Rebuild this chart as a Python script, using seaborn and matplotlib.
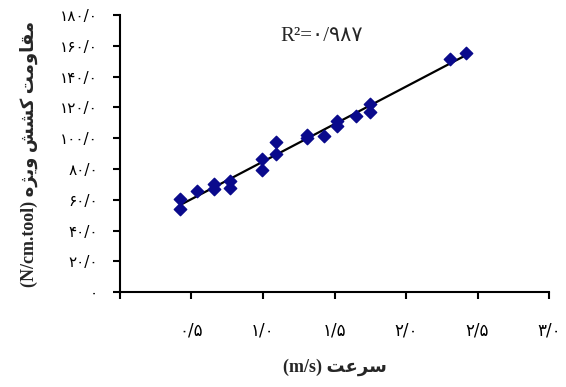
import matplotlib
matplotlib.use('Agg')
import matplotlib.pyplot as plt
import seaborn as sns
import pandas as pd

# speed (m/s) and specific draft resistance (N/cm.tool)
speed = [0.42, 0.42, 0.54, 0.66, 0.66, 0.77, 0.77, 0.99, 0.99, 1.09, 1.09,
         1.31, 1.31, 1.43, 1.52, 1.52, 1.65, 1.75, 1.75, 2.31, 2.42]
resistance = [60.7, 54.1, 65.6, 70.0, 66.8, 72.2, 67.9, 86.4, 79.4, 97.7, 89.7,
              102.1, 100.1, 101.6, 111.5, 108.0, 114.7, 122.4, 117.0, 151.4, 155.1]

x_ticks = [0, 0.5, 1.0, 1.5, 2.0, 2.5, 3.0]
x_labels = ['', '۰/۵', '۱/۰', '۱/۵', '۲/۰', '۲/۵', '۳/۰']
y_ticks = [0, 20, 40, 60, 80, 100, 120, 140, 160, 180]
y_labels = ['۰', '۲۰/۰', '۴۰/۰', '۶۰/۰', '۸۰/۰', '۱۰۰/۰', '۱۲۰/۰', '۱۴۰/۰', '۱۶۰/۰', '۱۸۰/۰']

r2_text = 'R²=۰/۹۸۷'
# persian labels written in visual order with presentation forms (no shaping in mpl)
x_title = '(m/s) \uFE96\uFECB\uFEAE\uFEB3'
y_title = ('(N/cm.tool) \uFEE9\uFB8B\uFBFE\uFEED \uFEB6\uFEB8\uFB90 '
           '\uFE96\uFEE3\uFEED\uFE8E\uFED8\uFEE3')

df = pd.DataFrame({'speed': speed, 'resistance': resistance})

sns.set_style('ticks')
plt.rcParams['font.family'] = ['DejaVu Sans']

fig = plt.figure(figsize=(5.66, 3.87), dpi=100)
ax = fig.add_axes([0.212, 0.245, 0.758, 0.716])

sns.regplot(data=df, x='speed', y='resistance', ax=ax, ci=None, marker='D',
            scatter_kws={'s': 40, 'color': '#0a0a8c', 'edgecolor': '#0a0a8c',
                         'alpha': 1, 'zorder': 3},
            line_kws={'color': 'black', 'linewidth': 1.6, 'zorder': 2})

ax.set_xlim(0, 3.0)
ax.set_ylim(0, 180)
ax.set_xticks(x_ticks)
ax.set_xticklabels(x_labels)
ax.set_yticks(y_ticks)
ax.set_yticklabels(y_labels)
ax.tick_params(axis='x', length=5, width=1.5, pad=16, labelsize=12, colors='black')
ax.tick_params(axis='y', length=5, width=1.5, pad=11, labelsize=11, colors='black')

for side in ['top', 'right']:
    ax.spines[side].set_visible(False)
for side in ['left', 'bottom']:
    ax.spines[side].set_linewidth(1.5)
    ax.spines[side].set_color('black')

ax.set_xlabel(x_title, fontsize=13, fontweight='bold',
              family=['Liberation Serif', 'DejaVu Sans'], labelpad=14)
ax.set_ylabel(y_title, fontsize=13, fontweight='bold',
              family=['Liberation Serif', 'DejaVu Sans'], labelpad=16)

ax.text(1.12, 166, r2_text, fontsize=15, ha='left', va='center',
        family=['Liberation Serif', 'DejaVu Sans'])

fig.savefig('out.png', dpi=100)
